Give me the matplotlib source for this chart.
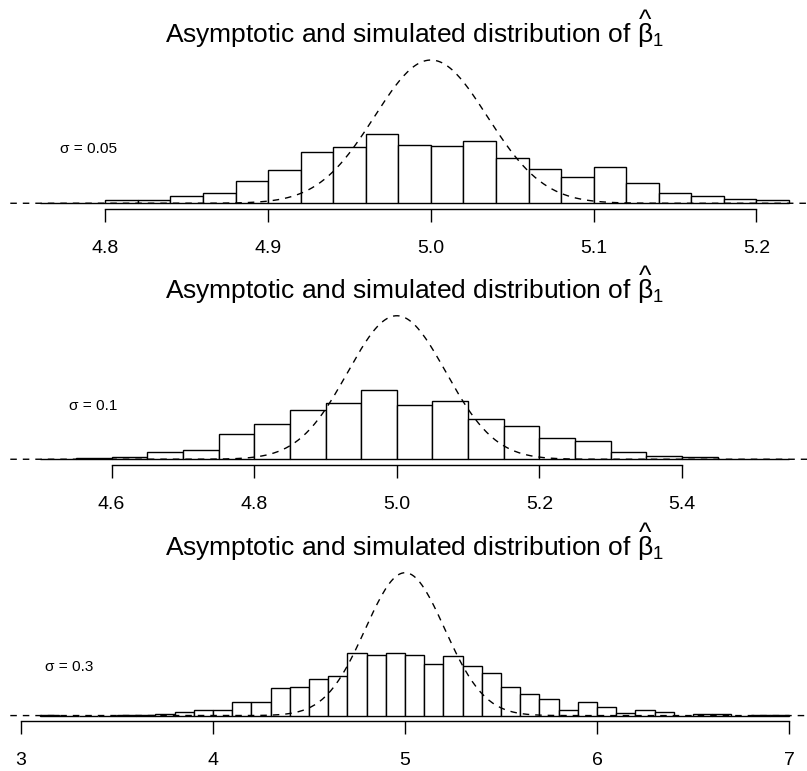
import numpy as np
import matplotlib
matplotlib.use('Agg')
import matplotlib.pyplot as plt
from matplotlib.transforms import IdentityTransform

plt.rcParams['font.family'] = ['Liberation Sans', 'DejaVu Sans']
plt.rcParams['mathtext.fontset'] = 'custom'
plt.rcParams['mathtext.rm'] = 'Liberation Sans'
plt.rcParams['mathtext.it'] = 'Liberation Sans'
plt.rcParams['mathtext.bf'] = 'Liberation Sans:bold'

# simulated estimates of beta_1 (1000 replications) for three noise levels
sigma_labels = ['σ = 0.05', 'σ = 0.1', 'σ = 0.3']
bin_start = [4.76, 4.50, 3.1]
bin_width = [0.02, 0.05, 0.1]

counts_sigma_005 = [1, 0, 5, 5, 12, 17, 36, 53, 82, 91, 111, 94, 93, 100, 73,
                    56, 43, 58, 32, 16, 11, 7, 6]
counts_sigma_01 = [1, 3, 4, 15, 18, 50, 71, 100, 114, 140, 109, 118, 82, 68,
                   43, 36, 15, 6, 5, 1, 1]
counts_sigma_03 = [1, 0, 0, 0, 1, 1, 2, 5, 7, 7, 18, 19, 37, 39, 50, 54, 84,
                   82, 85, 82, 70, 80, 67, 58, 39, 29, 23, 8, 18, 12, 4, 7, 5,
                   0, 2, 2, 0, 1, 1]

# asymptotic normal distribution of the estimator
asymp_mean = 5.0
asymp_sd = [0.0346, 0.0689, 0.2068]

tick_values = [[4.8, 4.9, 5.0, 5.1, 5.2],
               [4.6, 4.8, 5.0, 5.2, 5.4],
               [3, 4, 5, 6, 7]]
tick_labels = [['4.8', '4.9', '5.0', '5.1', '5.2'],
               ['4.6', '4.8', '5.0', '5.2', '5.4'],
               ['3', '4', '5', '6', '7']]

title_prefix = 'Asymptotic and simulated distribution of '
title = title_prefix + r'$\beta_1$'
TITLE_SIZE = 19
TITLE_PAD = 8.9

DPI = 100
W, H = 807, 771
fig = plt.figure(figsize=(W / DPI, H / DPI), dpi=DPI)

# plot regions in pixels (top, bottom) and shared left/right edges
panel_rows = [(54.3, 209.0), (310.0, 465.0), (567.0, 721.3)]
left_px, right_px = 10.3, 819.0
label_pos = [(0.097, 0.388), (0.102, 0.381), (0.073, 0.351)]

all_counts = [counts_sigma_005, counts_sigma_01, counts_sigma_03]
axes = []

for i, counts in enumerate(all_counts):
    counts = np.asarray(counts, dtype=float)
    width = bin_width[i]
    edges = bin_start[i] + width * np.arange(len(counts) + 1)
    density = counts / (counts.sum() * width)

    top, bottom = panel_rows[i]
    ax = fig.add_axes([left_px / W, 1 - bottom / H,
                       (right_px - left_px) / W, (bottom - top) / H])
    ax.patch.set_alpha(0)
    axes.append(ax)

    ax.bar(edges[:-1], density, width=width, align='edge',
           color='white', edgecolor='black', linewidth=1.0)

    # R-style 4% padding around the histogram range
    span = edges[-1] - edges[0]
    x0, x1 = edges[0] - 0.04 * span, edges[-1] + 0.04 * span
    sd = asymp_sd[i]
    peak = 1 / (sd * np.sqrt(2 * np.pi))
    xs = np.linspace(x0, x1, 400)
    ys = peak * np.exp(-0.5 * ((xs - asymp_mean) / sd) ** 2)
    ax.plot(xs, ys, color='black', linewidth=1.0, linestyle=(0, (4.7, 4.3)))

    ax.set_xlim(x0, x1)
    ax.set_ylim(-0.04 * peak, 1.04 * peak)

    for side in ['left', 'right', 'top']:
        ax.spines[side].set_visible(False)
    ax.spines['bottom'].set_bounds(tick_values[i][0], tick_values[i][-1])
    ax.spines['bottom'].set_linewidth(1.0)
    ax.set_yticks([])
    ax.set_xticks(tick_values[i])
    ax.set_xticklabels(tick_labels[i])
    ax.tick_params(axis='x', direction='out', length=9.6, width=1.0,
                   pad=12.5, labelsize=14)

    ax.set_title(title, fontsize=TITLE_SIZE, pad=TITLE_PAD)
    ax.text(label_pos[i][0], label_pos[i][1], sigma_labels[i],
            transform=ax.transAxes, ha='center', va='center', fontsize=11.1)

# put a tall hat over the beta, placed the way R's plotmath hat() sits
fig.canvas.draw()
renderer = fig.canvas.get_renderer()
probe = fig.text(0, 0, title_prefix + r'$\beta$', fontsize=TITLE_SIZE)
w_with_beta = probe.get_window_extent(renderer).width
probe.set_text(r'$\beta$')
w_beta = probe.get_window_extent(renderer).width
probe.remove()

for ax, (top, bottom) in zip(axes, panel_rows):
    tb = ax.title.get_window_extent(renderer)
    hat_x = tb.x0 + w_with_beta - w_beta / 2
    baseline_y = (H - top) + TITLE_PAD * DPI / 72
    fig.text(hat_x, baseline_y + 14, '^', transform=IdentityTransform(),
             ha='center', va='baseline', fontsize=TITLE_SIZE)

fig.savefig('out.png', dpi=DPI)
